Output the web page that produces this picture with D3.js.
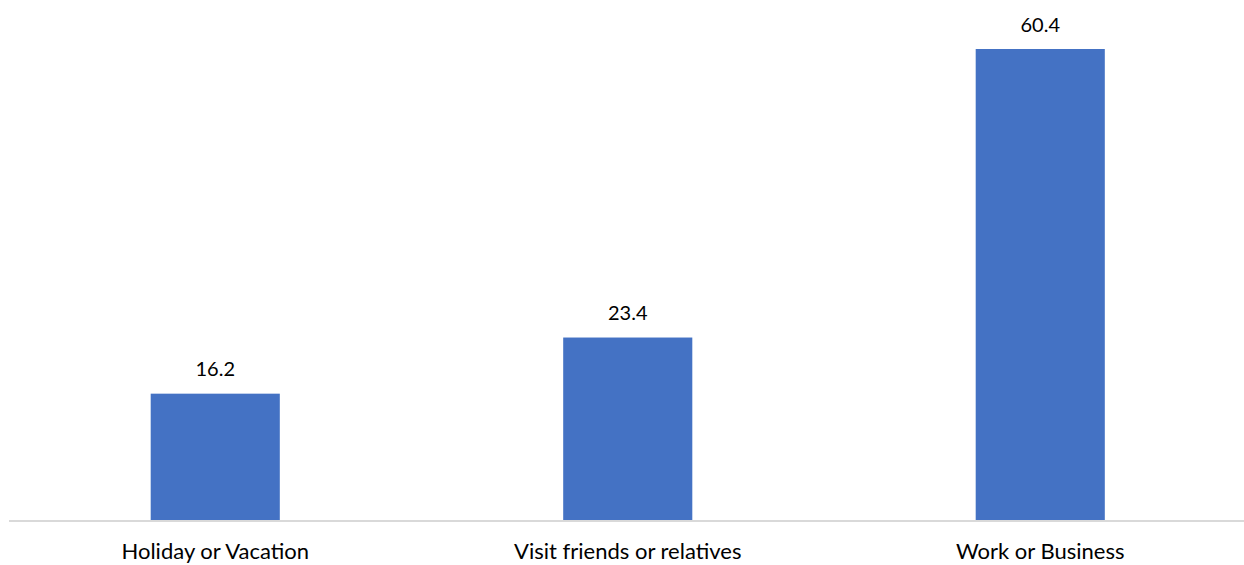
<!DOCTYPE html>
<html>
<head>
<meta charset="utf-8">
<script src="https://cdn.jsdelivr.net/npm/d3@7"></script>
<style>
  html, body { margin: 0; padding: 0; background: #fff; }
  svg { display: block; }
  text { font-family: Lato, "Open Sans", sans-serif; fill: #000; }
</style>
</head>
<body>
<svg id="chart" width="1244" height="565"></svg>
<script>
const categories = ["Holiday or Vacation", "Visit friends or relatives", "Work or Business"];
const values = [16.2, 23.4, 60.4];

const width = 1244, height = 565;
const baseline = 520;

const svg = d3.select("#chart");

const x = d3.scaleBand()
  .domain(categories)
  .range([9, 1246.5])
  .paddingInner(0.687)
  .paddingOuter(0.3435);

const y = d3.scaleLinear()
  .domain([0, 60.4])
  .range([baseline, 49]);

// bars
svg.append("g").selectAll("rect")
  .data(values)
  .join("rect")
  .attr("x", (d, i) => x(categories[i]))
  .attr("y", d => y(d))
  .attr("width", x.bandwidth())
  .attr("height", d => y(0) - y(d))
  .attr("fill", "#4472C4");

// value labels
svg.append("g").selectAll("text")
  .data(values)
  .join("text")
  .attr("x", (d, i) => x(categories[i]) + x.bandwidth() / 2)
  .attr("y", d => y(d) - 17.5)
  .attr("text-anchor", "middle")
  .style("font-size", "20px")
  .text(d => d.toFixed(1));

// category axis
const axis = svg.append("g")
  .attr("transform", `translate(0,${baseline + 1})`)
  .call(d3.axisBottom(x).tickSize(0).tickPadding(0));
axis.select(".domain").attr("d", "M9,0H1244").attr("stroke", "#d9d9d9").attr("stroke-width", 2);
axis.selectAll(".tick text")
  .attr("dy", null)
  .attr("y", 38)
  .style("font-size", "22px")
  .style("font-family", "Lato, 'Open Sans', sans-serif")
  .attr("fill", "#000");
</script>
</body>
</html>
